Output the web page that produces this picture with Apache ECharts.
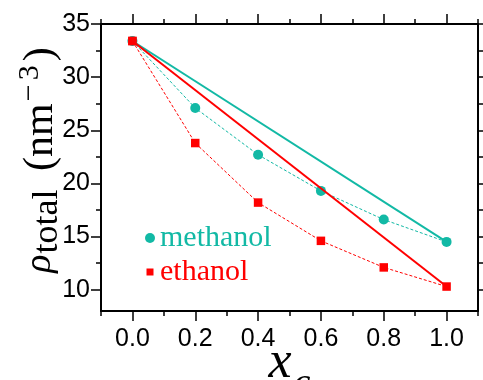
<!DOCTYPE html>
<html><head><meta charset="utf-8">
<script src="https://cdn.jsdelivr.net/npm/echarts@6/dist/echarts.min.js"></script>
<style>html,body{margin:0;padding:0;background:#fff}#c{width:483px;height:380px}</style>
</head><body><div id="c"></div>
<script>
const xValues = [0.0, 0.2, 0.4, 0.6, 0.8, 1.0];
const methanol = [33.4, 27.1, 22.7, 19.3, 16.6, 14.5];
const ethanol = [33.4, 23.8, 18.2, 14.6, 12.1, 10.3];
const xMajorTicks = [0.0, 0.2, 0.4, 0.6, 0.8, 1.0];
const xMinorTicks = [-0.1, 0.1, 0.3, 0.5, 0.7, 0.9, 1.1];
const yMajorTicks = [10, 15, 20, 25, 30, 35];
const yMinorTicks = [12.5, 17.5, 22.5, 27.5, 32.5];
const seriesNames = ['methanol', 'ethanol'];

const TEAL = '#12b9a5';
const RED = '#ff0000';
const SANS = 'Liberation Sans, Arial, sans-serif';
const SERIF = 'Liberation Serif, Times New Roman, serif';

function axis(kind, pos, ticks, len, withLabels, withLine, extra) {
  const isX = kind === 'x';
  const a = {
    type: 'value',
    position: pos,
    min: isX ? -0.1 : 8,
    max: isX ? 1.1 : 35,
    offset: 0,
    splitLine: { show: false },
    axisLine: { show: withLine, onZero: false, lineStyle: { color: '#000', width: 2 } },
    axisTick: { show: true, inside: false, length: len, customValues: ticks, lineStyle: { color: '#000', width: 1.5 } },
    axisLabel: withLabels ? {
      show: true, customValues: ticks, color: '#000', fontFamily: SANS, fontSize: 25, margin: isX ? 16 : 11,
      formatter: v => isX ? Number(v).toFixed(1) : String(Math.round(v))
    } : { show: false },
    nameMoveOverlap: false
  };
  return Object.assign(a, extra || {});
}

const xAxes = [
  axis('x', 'bottom', xMajorTicks, 10, true, true, {
    name: '{x|x}{c|c}', nameLocation: 'middle', nameGap: 8,
    nameTextStyle: {
      color: '#000',
      rich: {
        x: { fontFamily: SERIF, fontStyle: 'italic', fontSize: 52, lineHeight: 88, color: '#000' },
        c: { fontFamily: SERIF, fontStyle: 'italic', fontSize: 38, lineHeight: 36, verticalAlign: 'top', padding: [46, 0, 0, 2], color: '#000' }
      }
    }
  }),
  axis('x', 'bottom', xMinorTicks, 5, false, false),
  axis('x', 'top', xMajorTicks, 10, false, true),
  axis('x', 'top', xMinorTicks, 5, false, false)
];
const yAxes = [
  axis('y', 'left', yMajorTicks, 10, true, true, {
    name: '{rho|ρ}{sub|total}{p| (nm}{sup|−}{sup3|3}{p|)}', nameLocation: 'middle', nameGap: 35.5, nameRotate: 90,
    nameTextStyle: {
      color: '#000', fontFamily: SERIF, fontSize: 42, padding: [0, 0, 0, 15],
      rich: {
        rho: { fontFamily: SERIF, fontStyle: 'italic', fontSize: 38, lineHeight: 50, color: '#000' },
        sub: { fontFamily: SERIF, fontSize: 36, lineHeight: 40, verticalAlign: 'bottom', padding: [0, 8, 0, 1], color: '#000' },
        p: { fontFamily: SERIF, fontSize: 42, lineHeight: 50, color: '#000' },
        sup: { fontFamily: SERIF, fontSize: 30, lineHeight: 4, verticalAlign: 'top', padding: [0, 4, 0, 2], color: '#000' },
        sup3: { fontFamily: SERIF, fontSize: 30, lineHeight: 4, verticalAlign: 'top', padding: [0, 4, 0, 0], color: '#000' }
      }
    }
  }),
  axis('y', 'left', yMinorTicks, 5, false, false),
  axis('y', 'right', yMajorTicks, 10, false, true),
  axis('y', 'right', yMinorTicks, 5, false, false)
];

const pts = arr => xValues.map((x, i) => [x, arr[i]]);
const ends = arr => [[xValues[0], arr[0]], [xValues[xValues.length - 1], arr[arr.length - 1]]];

const chart = echarts.init(document.getElementById('c'), null, { renderer: 'canvas' });
chart.setOption({
  animation: false,
  backgroundColor: '#fff',
  grid: { left: 101, right: 5, top: 24, bottom: 69, containLabel: false, outerBoundsMode: 'none' },
  xAxis: xAxes,
  yAxis: yAxes,
  legend: {
    orient: 'vertical', left: 140, top: 218, itemWidth: 10, itemHeight: 10, itemGap: 4,
    selectedMode: false,
    textStyle: { fontFamily: SERIF, fontSize: 30, lineHeight: 30 },
    data: [
      { name: seriesNames[0], icon: 'circle', itemStyle: { color: TEAL }, textStyle: { color: TEAL } },
      { name: seriesNames[1], icon: 'path://M0,0M10,10M1.5,1.5L8.5,1.5L8.5,8.5L1.5,8.5Z', itemStyle: { color: RED }, textStyle: { color: RED } }
    ]
  },
  series: [
    { name: seriesNames[0], type: 'line', data: pts(methanol), symbol: 'circle', symbolSize: 10,
      itemStyle: { color: TEAL }, lineStyle: { color: TEAL, width: 1, type: [3, 2] }, z: 2 },
    { name: seriesNames[1], type: 'line', data: pts(ethanol), symbol: 'rect', symbolSize: 8.5,
      itemStyle: { color: RED }, lineStyle: { color: RED, width: 1, type: [3, 2] }, z: 2 },
    { name: 'methanol-ideal', type: 'line', data: ends(methanol), showSymbol: false, symbol: 'none',
      lineStyle: { color: TEAL, width: 2 }, z: 3 },
    { name: 'ethanol-ideal', type: 'line', data: ends(ethanol), showSymbol: false, symbol: 'none',
      lineStyle: { color: RED, width: 2 }, z: 3 },
    { name: 'start', type: 'scatter', data: [[xValues[0], ethanol[0]]], symbol: 'rect', symbolSize: 8.5,
      itemStyle: { color: RED }, z: 4, silent: true }
  ]
});
</script></body></html>
